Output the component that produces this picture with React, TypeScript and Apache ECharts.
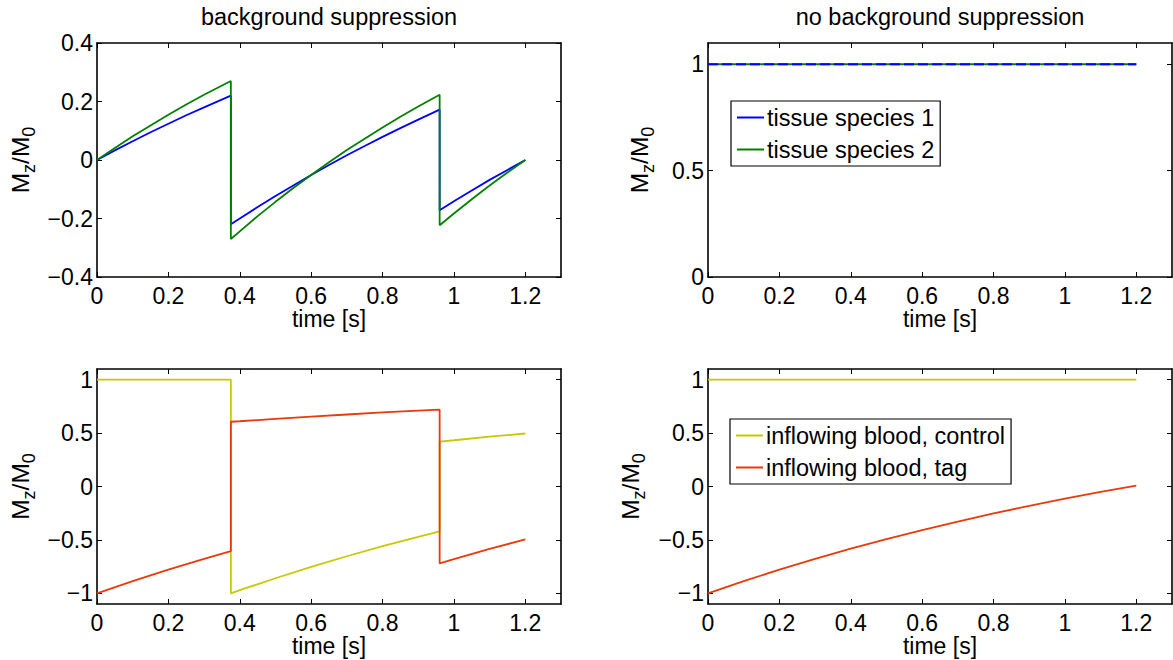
import React, { useEffect, useRef } from "react";
import * as echarts from "echarts";

const FONT = "'Liberation Sans', Arial, Helvetica, sans-serif";

// Top-left: background suppression, tissue species
const timeTL = [0, 0.05, 0.1, 0.15, 0.2, 0.25, 0.3, 0.375, 0.375, 0.4, 0.45, 0.5, 0.55, 0.6, 0.65, 0.7, 0.75, 0.8, 0.85, 0.9, 0.96, 0.96, 1.0, 1.05, 1.1, 1.15, 1.2];
const species1BS = [0, 0.033, 0.064, 0.095, 0.124, 0.153, 0.18, 0.22, -0.22, -0.2, -0.161, -0.123, -0.087, -0.051, -0.017, 0.016, 0.048, 0.079, 0.109, 0.138, 0.172, -0.172, -0.141, -0.104, -0.068, -0.034, 0];
const species2BS = [0, 0.041, 0.081, 0.118, 0.155, 0.19, 0.223, 0.27, -0.27, -0.244, -0.192, -0.143, -0.096, -0.051, -0.008, 0.034, 0.073, 0.111, 0.148, 0.183, 0.223, -0.223, -0.183, -0.134, -0.087, -0.043, 0];

// Top-right: no background suppression
const timeTR = [0, 1.2];
const species1NoBS = [1, 1];
const species2NoBS = [1, 1];

// Bottom-left: background suppression, inflowing blood
const timeBL = [0, 0.1, 0.2, 0.3, 0.375, 0.375, 0.4, 0.5, 0.6, 0.7, 0.8, 0.9, 0.96, 0.96, 1.0, 1.1, 1.2];
const controlBS = [1, 1, 1, 1, 1, -1, -0.971, -0.859, -0.753, -0.653, -0.559, -0.471, -0.42, 0.42, 0.433, 0.466, 0.496];
const tagBS = [-1, -0.886, -0.779, -0.678, -0.606, 0.606, 0.611, 0.633, 0.654, 0.674, 0.693, 0.71, 0.72, -0.72, -0.68, -0.585, -0.495];

// Bottom-right: no background suppression, inflowing blood
const timeBR = [0, 0.1, 0.2, 0.3, 0.4, 0.5, 0.6, 0.7, 0.8, 0.9, 1.0, 1.1, 1.2];
const controlNoBS = [1, 1, 1, 1, 1, 1, 1, 1, 1, 1, 1, 1, 1];
const tagNoBS = [-1, -0.886, -0.779, -0.678, -0.582, -0.492, -0.408, -0.328, -0.252, -0.181, -0.114, -0.05, 0.009];

const xTicks = [0, 0.2, 0.4, 0.6, 0.8, 1, 1.2];
const yTicksTL = [-0.4, -0.2, 0, 0.2, 0.4];
const yTicksTR = [0, 0.5, 1];
const yTicksBottom = [-1, -0.5, 0, 0.5, 1];

const titles = ["background suppression", "no background suppression"];
const legend1 = ["tissue species 1", "tissue species 2"];
const legend2 = ["inflowing blood, control", "inflowing blood, tag"];

const BLUE = "#0000ff";
const GREEN = "#008000";
const YELLOW = "#c8c800";
const RED = "#e83a0a";

const zip = (xs: number[], ys: number[]) => xs.map((x, i) => [x, ys[i]]);
const fmt = (v: number) => String(+Number(v).toFixed(2)).replace("-", "\u2212");

const grids = [
  { left: 97, top: 43, width: 464, height: 234 },
  { left: 708, top: 43, width: 464, height: 234 },
  { left: 97, top: 369, width: 464, height: 235 },
  { left: 708, top: 369, width: 464, height: 235 },
];
const yRanges = [
  [-0.4, 0.4, yTicksTL, 59],
  [0, 1.1, yTicksTR, 51],
  [-1.1, 1.1, yTicksBottom, 59],
  [-1.1, 1.1, yTicksBottom, 60],
] as const;
const xNameGaps = [29, 29, 28, 28];

const axisLineStyle = { color: "#000", width: 1.6 };
const TICK_FS = 23;

function buildOption() {
  const xAxis: any[] = [];
  const yAxis: any[] = [];
  grids.forEach((_, g) => {
    xAxis.push({
      type: "value", gridIndex: g, position: "bottom", min: 0, max: 1.3,
      name: "time [s]", nameLocation: "middle", nameGap: xNameGaps[g],
      nameTextStyle: { fontSize: TICK_FS, fontFamily: FONT, color: "#000" },
      axisLine: { show: true, onZero: false, lineStyle: axisLineStyle },
      axisTick: { show: true, inside: true, length: 5, customValues: xTicks, lineStyle: { color: "#000", width: 1 } },
      axisLabel: { show: true, customValues: xTicks, margin: 7, fontSize: TICK_FS, fontFamily: FONT, color: "#000", formatter: fmt },
      splitLine: { show: false },
    });
    xAxis.push({
      type: "value", gridIndex: g, position: "top", min: 0, max: 1.3,
      axisLine: { show: true, onZero: false, lineStyle: axisLineStyle },
      axisTick: { show: true, inside: true, length: 5, customValues: xTicks, lineStyle: { color: "#000", width: 1 } },
      axisLabel: { show: false },
      splitLine: { show: false },
    });
    const [mn, mx, ticks, gap] = yRanges[g];
    yAxis.push({
      type: "value", gridIndex: g, position: "left", min: mn, max: mx,
      name: "{m|M}{s|z}{m|/M}{s|0}", nameLocation: "middle", nameGap: gap, nameRotate: 90,
      nameTextStyle: {
        rich: {
          m: { fontSize: 24.5, fontFamily: FONT, color: "#000", lineHeight: 36 },
          s: { fontSize: 18, fontFamily: FONT, color: "#000", lineHeight: 16, verticalAlign: "bottom" },
        },
      },
      axisLine: { show: true, onZero: false, lineStyle: axisLineStyle },
      axisTick: { show: true, inside: true, length: 5, customValues: ticks, lineStyle: { color: "#000", width: 1 } },
      axisLabel: { show: true, customValues: ticks, margin: 4, fontSize: TICK_FS, fontFamily: FONT, color: "#000", formatter: fmt },
      splitLine: { show: false },
    });
    yAxis.push({
      type: "value", gridIndex: g, position: "right", min: mn, max: mx,
      axisLine: { show: true, onZero: false, lineStyle: axisLineStyle },
      axisTick: { show: true, inside: true, length: 5, customValues: ticks, lineStyle: { color: "#000", width: 1 } },
      axisLabel: { show: false },
      splitLine: { show: false },
    });
  });

  const line = (name: string, g: number, data: number[][], color: string, extra: any = {}) => ({
    type: "line", name, xAxisIndex: g * 2, yAxisIndex: g * 2, data,
    symbol: "none", showSymbol: false, silent: true,
    lineStyle: { color, width: 1.8, ...extra },
    itemStyle: { color },
  });

  const series = [
    line(legend1[0], 0, zip(timeTL, species1BS), BLUE),
    line(legend1[1], 0, zip(timeTL, species2BS), GREEN),
    line(legend1[1], 1, zip(timeTR, species2NoBS), GREEN),
    line(legend1[0], 1, zip(timeTR, species1NoBS), BLUE, { type: [10, 4] }),
    line(legend2[0], 2, zip(timeBL, controlBS), YELLOW),
    line(legend2[1], 2, zip(timeBL, tagBS), RED),
    line(legend2[0], 3, zip(timeBR, controlNoBS), YELLOW),
    line(legend2[1], 3, zip(timeBR, tagNoBS), RED),
  ];

  const legendBase = {
    orient: "vertical", selectedMode: false, icon: "rect", itemWidth: 27, itemHeight: 2, itemGap: 7,
    padding: [4, 6, 4, 6], borderColor: "#000", borderWidth: 1.2, backgroundColor: "#fff",
    textStyle: { fontSize: 23.5, fontFamily: FONT, color: "#000", lineHeight: 25, padding: [0, 0, 0, -2] },
  };

  return {
    animation: false,
    backgroundColor: "#fff",
    grid: grids.map((g) => ({ ...g, containLabel: false })),
    xAxis, yAxis, series,
    legend: [
      { ...legendBase, data: [
        { name: legend1[0], itemStyle: { color: BLUE } },
        { name: legend1[1], itemStyle: { color: GREEN } },
      ], left: 731, top: 101 },
      { ...legendBase, data: [
        { name: legend2[0], itemStyle: { color: YELLOW } },
        { name: legend2[1], itemStyle: { color: RED } },
      ], left: 730, top: 419 },
    ],
    graphic: [
      { type: "text", x: 329, y: 17, style: { text: titles[0], fontSize: 23.5, fontFamily: FONT, fill: "#000", align: "center", verticalAlign: "middle" } },
      { type: "text", x: 940, y: 17, style: { text: titles[1], fontSize: 23.5, fontFamily: FONT, fill: "#000", align: "center", verticalAlign: "middle" } },
    ],
  };
}

export default function App() {
  const ref = useRef<HTMLDivElement>(null);
  useEffect(() => {
    if (!ref.current) return;
    const chart = echarts.init(ref.current, undefined, { renderer: "svg" });
    chart.setOption(buildOption() as any);
    return () => chart.dispose();
  }, []);
  return <div ref={ref} style={{ position: "absolute", left: 0, top: 0, width: 1173, height: 660 }} />;
}
